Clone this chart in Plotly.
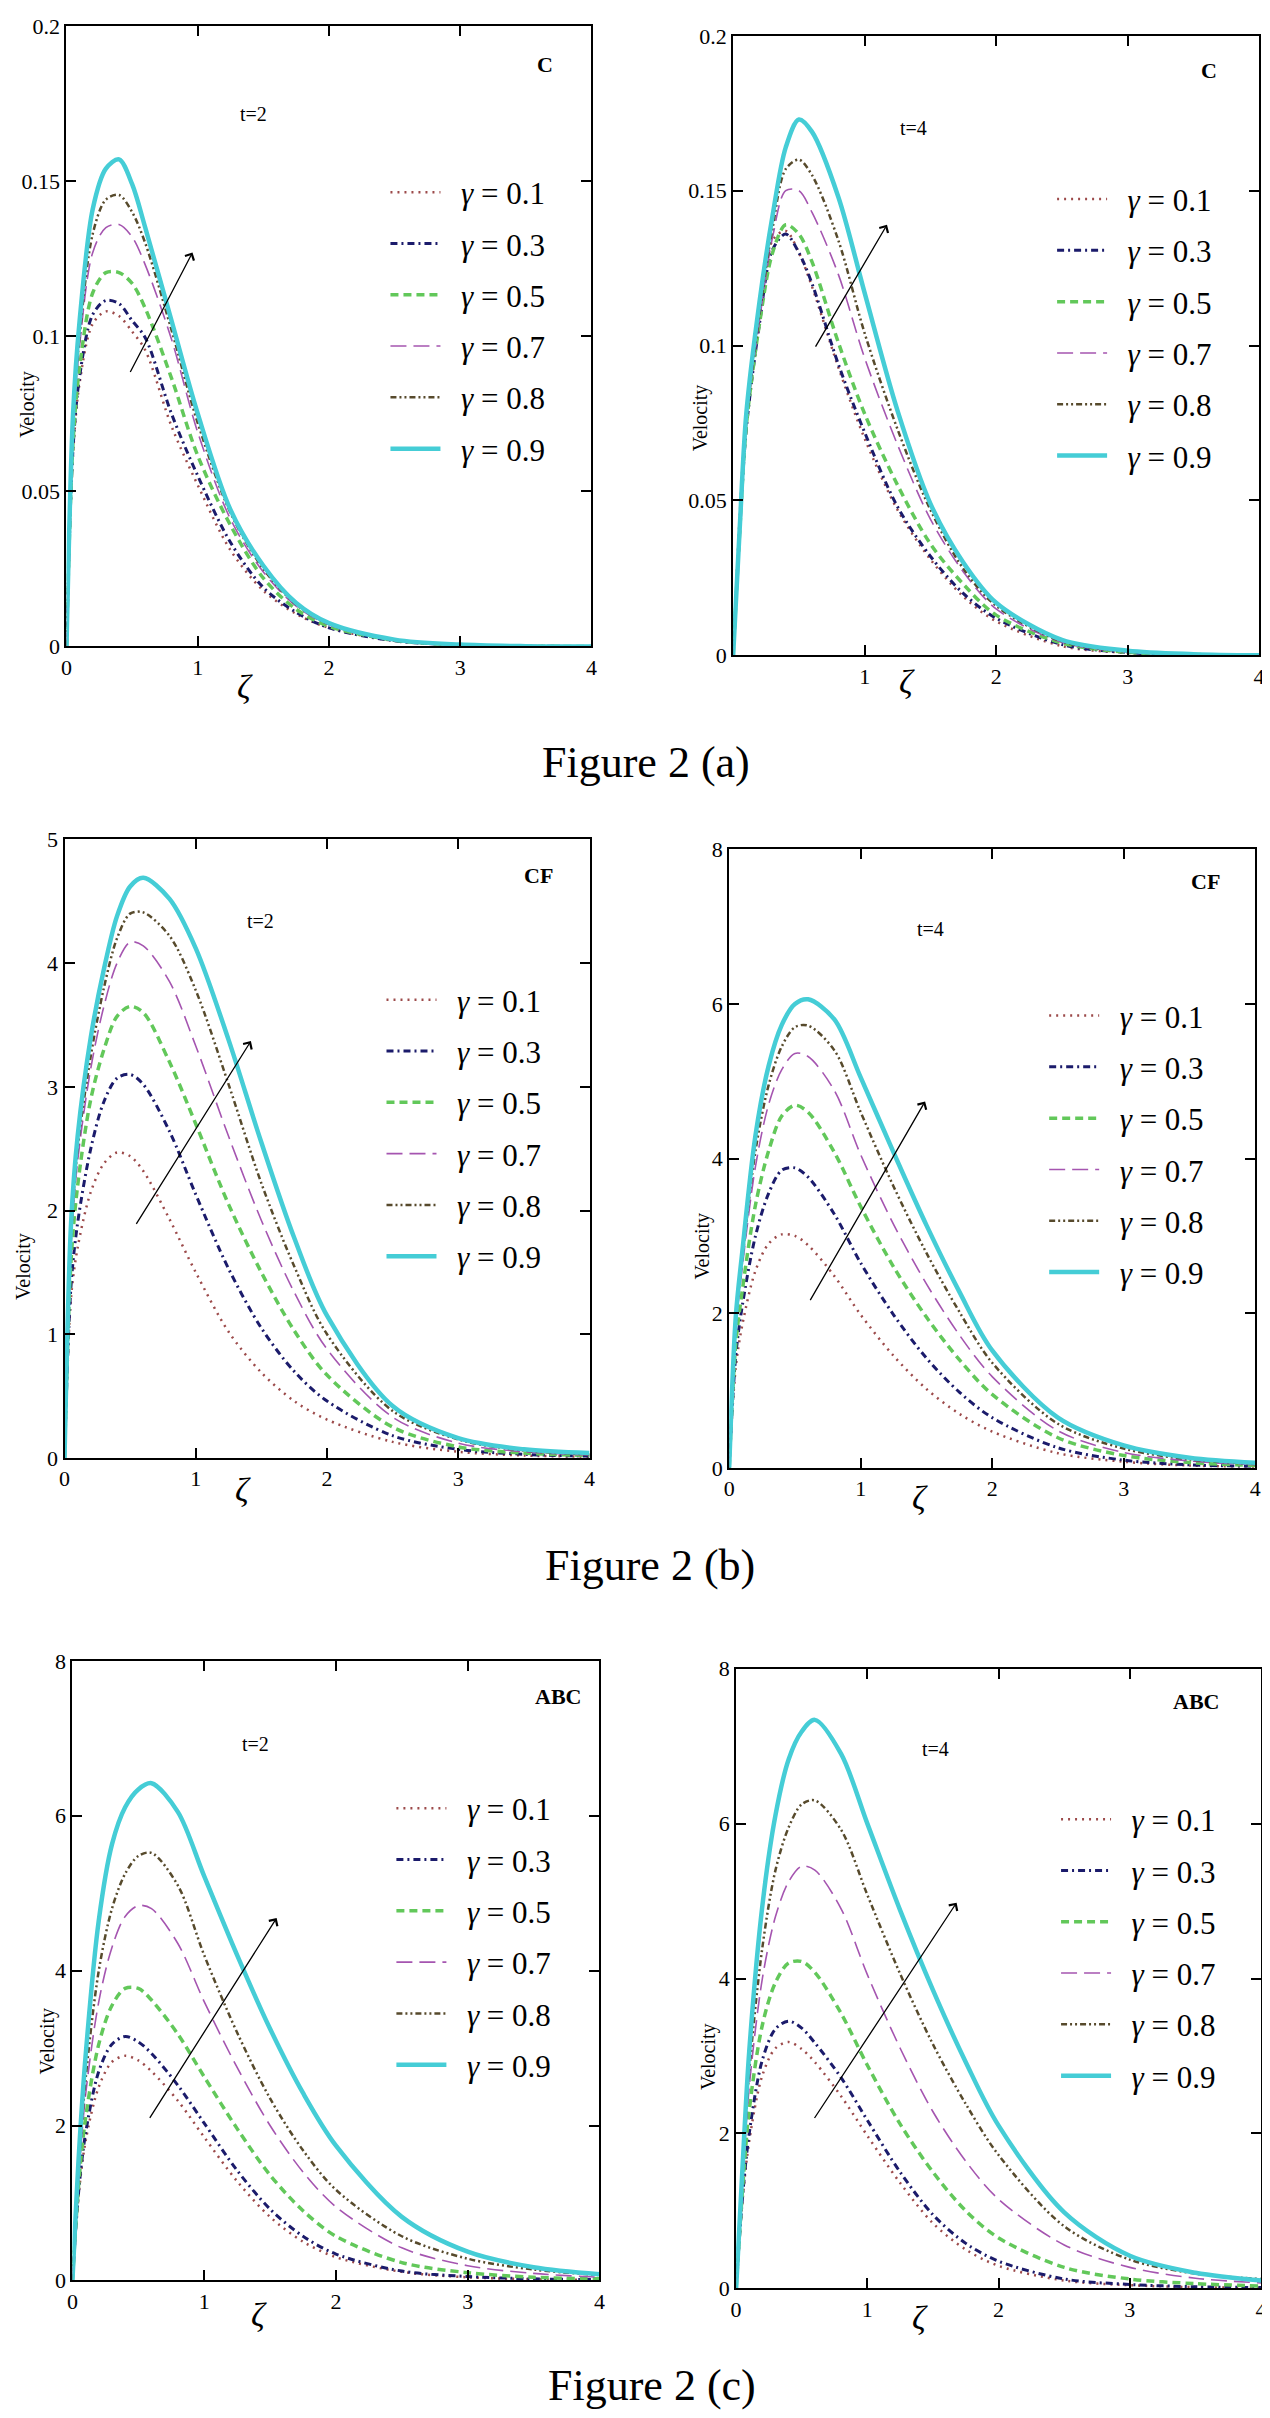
import plotly.graph_objects as go

# ---------------- data ----------------
zeta = [0, 0.05, 0.1, 0.2, 0.3, 0.4, 0.5, 0.6, 0.8, 1.0, 1.25, 1.5, 1.75, 2.0, 2.5, 3.0, 3.5, 4.0]
gammas = ["0.1", "0.3", "0.5", "0.7", "0.8", "0.9"]

# Figure 2(a) C, t=2
c_t2_g01 = [0, 0.062, 0.085, 0.104, 0.108, 0.1065, 0.1015, 0.0955, 0.071, 0.052, 0.031, 0.018, 0.0105, 0.006, 0.0018, 0.0005, 0.0001, 0]
c_t2_g03 = [0, 0.064, 0.087, 0.107, 0.1115, 0.1105, 0.105, 0.0995, 0.075, 0.055, 0.0335, 0.019, 0.011, 0.006, 0.0018, 0.0005, 0.0001, 0]
c_t2_g05 = [0, 0.066, 0.090, 0.114, 0.1205, 0.1205, 0.117, 0.109, 0.0865, 0.0615, 0.039, 0.022, 0.012, 0.0065, 0.002, 0.0005, 0.0001, 0]
c_t2_g07 = [0, 0.070, 0.097, 0.127, 0.135, 0.136, 0.132, 0.123, 0.099, 0.069, 0.041, 0.024, 0.013, 0.007, 0.002, 0.0005, 0.0001, 0]
c_t2_g08 = [0, 0.072, 0.100, 0.133, 0.144, 0.1455, 0.140, 0.130, 0.102, 0.072, 0.043, 0.025, 0.0135, 0.0072, 0.002, 0.0005, 0.0001, 0]
c_t2_g09 = [0, 0.075, 0.105, 0.141, 0.154, 0.157, 0.149, 0.135, 0.105, 0.075, 0.044, 0.026, 0.014, 0.0075, 0.0022, 0.0006, 0.0001, 0]

# Figure 2(a) C, t=4
c_t4_g01 = [0, 0.045, 0.078, 0.112, 0.134, 0.137, 0.130, 0.119, 0.093, 0.070, 0.047, 0.031, 0.019, 0.011, 0.003, 0.0008, 0.0002, 0]
c_t4_g03 = [0, 0.040, 0.073, 0.107, 0.131, 0.136, 0.130, 0.120, 0.094, 0.072, 0.048, 0.032, 0.020, 0.012, 0.0035, 0.0009, 0.0002, 0]
c_t4_g05 = [0, 0.040, 0.074, 0.107, 0.130, 0.139, 0.136, 0.127, 0.101, 0.078, 0.055, 0.036, 0.023, 0.013, 0.004, 0.001, 0.0003, 0]
c_t4_g07 = [0, 0.040, 0.075, 0.108, 0.135, 0.150, 0.150, 0.143, 0.123, 0.096, 0.068, 0.044, 0.027, 0.015, 0.0042, 0.0011, 0.0003, 0]
c_t4_g08 = [0, 0.040, 0.075, 0.110, 0.138, 0.157, 0.160, 0.155, 0.134, 0.104, 0.073, 0.047, 0.028, 0.016, 0.0045, 0.0012, 0.0003, 0]
c_t4_g09 = [0, 0.041, 0.078, 0.114, 0.142, 0.164, 0.173, 0.169, 0.148, 0.117, 0.079, 0.049, 0.030, 0.017, 0.005, 0.0015, 0.0004, 0]

# Figure 2(b) CF, t=2
cf_t2_g01 = [0, 1.3, 1.7, 2.15, 2.38, 2.47, 2.44, 2.32, 1.93, 1.5, 1.02, 0.69, 0.46, 0.31, 0.13, 0.05, 0.02, 0.01]
cf_t2_g03 = [0, 1.4, 1.9, 2.5, 2.88, 3.07, 3.1, 3.02, 2.64, 2.13, 1.53, 1.05, 0.7, 0.46, 0.18, 0.07, 0.03, 0.015]
cf_t2_g05 = [0, 1.6, 2.2, 2.9, 3.3, 3.57, 3.65, 3.6, 3.2, 2.7, 2.05, 1.5, 1.03, 0.67, 0.25, 0.09, 0.04, 0.02]
cf_t2_g07 = [0, 1.75, 2.4, 3.15, 3.65, 4.0, 4.17, 4.14, 3.85, 3.33, 2.6, 1.92, 1.34, 0.88, 0.33, 0.12, 0.05, 0.025]
cf_t2_g08 = [0, 1.8, 2.5, 3.25, 3.8, 4.2, 4.4, 4.41, 4.22, 3.78, 3.02, 2.22, 1.55, 1.0, 0.38, 0.15, 0.06, 0.03]
cf_t2_g09 = [0, 1.9, 2.6, 3.4, 3.95, 4.38, 4.62, 4.69, 4.52, 4.12, 3.38, 2.55, 1.78, 1.15, 0.42, 0.16, 0.07, 0.04]

# Figure 2(b) CF, t=4
cf_t4_g01 = [0, 1.3, 1.85, 2.55, 2.9, 3.02, 3.0, 2.88, 2.48, 1.98, 1.45, 1.02, 0.7, 0.47, 0.19, 0.08, 0.03, 0.015]
cf_t4_g03 = [0, 1.45, 2.1, 3.0, 3.55, 3.85, 3.88, 3.76, 3.28, 2.65, 1.98, 1.42, 0.98, 0.65, 0.26, 0.1, 0.04, 0.02]
cf_t4_g05 = [0, 1.6, 2.3, 3.4, 4.1, 4.55, 4.69, 4.6, 4.08, 3.38, 2.6, 1.95, 1.4, 0.95, 0.39, 0.16, 0.07, 0.03]
cf_t4_g07 = [0, 1.8, 2.6, 3.9, 4.7, 5.15, 5.36, 5.32, 4.88, 4.05, 3.15, 2.38, 1.72, 1.18, 0.48, 0.2, 0.09, 0.04]
cf_t4_g08 = [0, 1.85, 2.7, 4.1, 4.95, 5.45, 5.7, 5.72, 5.4, 4.6, 3.64, 2.78, 2.02, 1.36, 0.57, 0.25, 0.11, 0.05]
cf_t4_g09 = [0, 1.95, 2.8, 4.3, 5.2, 5.73, 6.0, 6.06, 5.8, 5.05, 4.08, 3.14, 2.28, 1.52, 0.65, 0.29, 0.13, 0.065]

# Figure 2(c) ABC, t=2
abc_t2_g01 = [0, 1.15, 1.8, 2.5, 2.82, 2.9, 2.84, 2.7, 2.32, 1.85, 1.28, 0.82, 0.5, 0.3, 0.11, 0.04, 0.015, 0.007]
abc_t2_g03 = [0, 1.2, 1.9, 2.7, 3.05, 3.15, 3.08, 2.93, 2.52, 2.03, 1.42, 0.92, 0.57, 0.34, 0.12, 0.05, 0.02, 0.01]
abc_t2_g05 = [0, 1.3, 2.1, 3.05, 3.55, 3.77, 3.77, 3.62, 3.18, 2.63, 1.96, 1.36, 0.9, 0.57, 0.23, 0.1, 0.04, 0.02]
abc_t2_g07 = [0, 1.4, 2.4, 3.6, 4.3, 4.7, 4.84, 4.8, 4.35, 3.6, 2.75, 2.0, 1.4, 0.95, 0.42, 0.19, 0.09, 0.04]
abc_t2_g08 = [0, 1.5, 2.6, 4.0, 4.8, 5.25, 5.48, 5.52, 5.1, 4.2, 3.2, 2.35, 1.68, 1.17, 0.57, 0.28, 0.14, 0.07]
abc_t2_g09 = [0, 1.66, 2.9, 4.65, 5.63, 6.11, 6.34, 6.42, 6.05, 5.22, 4.2, 3.25, 2.42, 1.74, 0.82, 0.37, 0.17, 0.08]

# Figure 2(c) ABC, t=4
abc_t4_g01 = [0, 1.15, 1.9, 2.75, 3.1, 3.18, 3.09, 2.92, 2.48, 1.97, 1.36, 0.84, 0.5, 0.29, 0.1, 0.04, 0.015, 0.007]
abc_t4_g03 = [0, 1.2, 2.0, 2.95, 3.35, 3.45, 3.36, 3.17, 2.72, 2.17, 1.5, 0.95, 0.58, 0.35, 0.12, 0.05, 0.02, 0.01]
abc_t4_g05 = [0, 1.3, 2.3, 3.4, 3.95, 4.2, 4.22, 4.08, 3.55, 2.88, 2.12, 1.5, 1.0, 0.65, 0.27, 0.12, 0.06, 0.03]
abc_t4_g07 = [0, 1.4, 2.6, 4.0, 4.8, 5.25, 5.45, 5.4, 4.9, 4.05, 3.1, 2.28, 1.64, 1.15, 0.56, 0.27, 0.13, 0.07]
abc_t4_g08 = [0, 1.5, 2.8, 4.4, 5.4, 5.95, 6.25, 6.3, 5.92, 5.08, 4.06, 3.15, 2.38, 1.72, 0.8, 0.37, 0.19, 0.12]
abc_t4_g09 = [0, 1.6, 3.06, 4.94, 6.11, 6.83, 7.19, 7.34, 6.9, 6.0, 4.88, 3.85, 2.92, 2.1, 0.98, 0.42, 0.2, 0.1]

# tick values / labels
x_ticks = [0, 1, 2, 3, 4]
y_ticks_c = [0, 0.05, 0.1, 0.15, 0.2]
y_ticks_cf2 = [0, 1, 2, 3, 4, 5]
y_ticks_8 = [0, 2, 4, 6, 8]

# ---------------- layout constants ----------------
W, H = 1270, 2418
def px(x):
    return x / W
def py(y):
    return 1 - y / H

SERIF = "Liberation Serif, Times New Roman, serif"
NB = "\u00a0\u00a0"

styles = [
    dict(color="#9c4a4a", width=2.5, dash="2px,5px"),
    dict(color="#1b1b6b", width=3.0, dash="7px,4px,2px,4px"),
    dict(color="#62c85a", width=3.5, dash="8px,5px"),
    dict(color="#a555b0", width=1.6, dash="16px,7px"),
    dict(color="#574a2c", width=2.5, dash="6px,3px,2px,3px,2px,3px"),
    dict(color="#45cdd6", width=4.5, dash="solid"),
]

panels = [
    dict(series=[c_t2_g01, c_t2_g03, c_t2_g05, c_t2_g07, c_t2_g08, c_t2_g09],
         box=(53, 6, 583, 633), yr=[0, 0.2], yt=y_ticks_c, ylab=["0", "0.05", "0.1", "0.15", "0.2"],
         xlab=["0", "1", "2", "3", "4"], tag="C", tagpos=(536, 45), t="t=2", tpos=(242, 95),
         vel=(14, 388), zeta=(233, 673), leg=(375, 189), arrow=((0.48, 0.088), (0.96, 0.127))),
    dict(series=[c_t4_g01, c_t4_g03, c_t4_g05, c_t4_g07, c_t4_g08, c_t4_g09],
         box=(726, 16, 1257, 642), yr=[0, 0.2], yt=y_ticks_c, ylab=["0", "0.05", "0.1", "0.15", "0.2"],
         xlab=["", "1", "2", "3", "4"], tag="C", tagpos=(1206, 51), t="t=4", tpos=(908, 109),
         vel=(693, 402), zeta=(902, 668), leg=(1048, 196), arrow=((0.62, 0.0992), (1.17, 0.139))),
    dict(series=[cf_t2_g01, cf_t2_g03, cf_t2_g05, cf_t2_g07, cf_t2_g08, cf_t2_g09],
         box=(51, 828, 581, 1453), yr=[0, 5], yt=y_ticks_cf2, ylab=[str(v) for v in y_ticks_cf2],
         xlab=["0", "1", "2", "3", "4"], tag="CF", tagpos=(530, 864), t="t=2", tpos=(249, 910),
         vel=(10, 1259), zeta=(231, 1485), leg=(371, 1005), arrow=((0.54, 1.88), (1.42, 3.37))),
    dict(series=[cf_t4_g01, cf_t4_g03, cf_t4_g05, cf_t4_g07, cf_t4_g08, cf_t4_g09],
         box=(722, 838, 1253, 1463), yr=[0, 8], yt=y_ticks_8, ylab=[str(v) for v in y_ticks_8],
         xlab=["0", "1", "2", "3", "4"], tag="CF", tagpos=(1203, 870), t="t=4", tpos=(925, 918),
         vel=(695, 1239), zeta=(915, 1493), leg=(1040, 1021), arrow=((0.61, 2.15), (1.49, 4.74))),
    dict(series=[abc_t2_g01, abc_t2_g03, abc_t2_g05, abc_t2_g07, abc_t2_g08, abc_t2_g09],
         box=(59, 1658, 591, 2284), yr=[0, 8], yt=y_ticks_8, ylab=[str(v) for v in y_ticks_8],
         xlab=["0", "1", "2", "3", "4"], tag="ABC", tagpos=(549, 1694), t="t=2", tpos=(244, 1742),
         vel=(34, 2042), zeta=(247, 2318), leg=(381, 1822), arrow=((0.58, 2.08), (1.55, 4.68))),
    dict(series=[abc_t4_g01, abc_t4_g03, abc_t4_g05, abc_t4_g07, abc_t4_g08, abc_t4_g09],
         box=(729, 1666, 1259, 2292), yr=[0, 8], yt=y_ticks_8, ylab=[str(v) for v in y_ticks_8],
         xlab=["0", "1", "2", "3", "4"], tag="ABC", tagpos=(1193, 1699), t="t=4", tpos=(930, 1747),
         vel=(701, 2058), zeta=(915, 2322), leg=(1052, 1833), arrow=((0.59, 2.18), (1.68, 4.98))),
]

captions = [("Figure 2 (a)", (638, 750)), ("Figure 2 (b)", (642, 1562)), ("Figure 2 (c)", (644, 2390))]

fig = go.Figure()
annotations = []
layout = dict(
    width=W, height=H, margin=dict(l=0, r=0, t=0, b=0),
    paper_bgcolor="white", plot_bgcolor="white", showlegend=True, hovermode=False,
)


def label(x, y, text, size, angle=0):
    return dict(x=px(x), y=py(y), xref="paper", yref="paper", text=text, showarrow=False,
                xanchor="center", yanchor="middle", textangle=angle,
                font=dict(family=SERIF, size=size, color="black"))


for i, p in enumerate(panels):
    n = i + 1
    sfx = "" if n == 1 else str(n)
    xa, ya = "x" + sfx, "y" + sfx
    legname = "legend" + sfx
    for g, vals, st in zip(gammas, p["series"], styles):
        fig.add_trace(go.Scatter(
            x=zeta, y=vals, mode="lines", name=NB + "<i>γ</i> = " + g,
            line=dict(color=st["color"], width=st["width"], dash=st["dash"], shape="spline", smoothing=0.9),
            xaxis=xa, yaxis=ya, legend=legname, legendgroup=f"p{n}g{g}", showlegend=True,
        ))
    x0, y0, x1, y1 = p["box"]
    axis_common = dict(showline=True, linecolor="black", linewidth=2, mirror="ticks",
                       ticks="inside", ticklen=10, tickwidth=1.5, tickcolor="black",
                       showgrid=False, zeroline=False,
                       tickfont=dict(family=SERIF, size=22, color="black"))
    layout["xaxis" + sfx] = dict(domain=[px(x0), px(x1)], range=[0, 4], anchor=ya,
                                 tickvals=x_ticks, ticktext=p["xlab"], **axis_common)
    layout["yaxis" + sfx] = dict(domain=[py(y1), py(y0)], range=p["yr"], anchor=xa,
                                 tickvals=p["yt"], ticktext=p["ylab"], **axis_common)
    lx, ly = p["leg"]
    layout[legname] = dict(x=px(lx), y=py(ly - 42), xanchor="left", yanchor="top",
                           bgcolor="rgba(0,0,0,0)", borderwidth=0, tracegroupgap=8,
                           itemwidth=50, font=dict(family=SERIF, size=31, color="black"))
    annotations.append(label(*p["tagpos"], "<b>" + p["tag"] + "</b>", 22))
    annotations.append(label(*p["tpos"], p["t"], 20))
    annotations.append(label(*p["vel"], "Velocity", 20, angle=-90))
    annotations.append(label(*p["zeta"], "<i>ζ</i>", 34))
    (tx, ty), (hx, hy) = p["arrow"]
    annotations.append(dict(x=hx, y=hy, ax=tx, ay=ty, xref=xa, yref=ya, axref=xa, ayref=ya,
                            text="", showarrow=True, arrowhead=4, arrowsize=1.5, arrowwidth=1.3,
                            arrowcolor="black"))

for txt, (cx, cy) in captions:
    annotations.append(label(cx, cy, txt, 44))

layout["annotations"] = annotations
fig.update_layout(**layout)
fig.write_html("out.html")
